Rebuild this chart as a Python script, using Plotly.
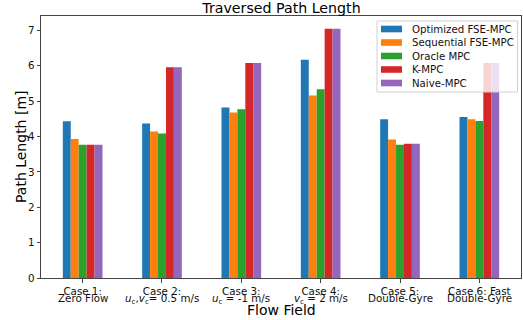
import plotly.graph_objects as go

case_titles = ["Case 1:", "Case 2:", "Case 3:", "Case 4:", "Case 5:", "Case 6: Fast"]
case_subtitles = ["Zero Flow",
                  "<i>u</i><sub>c</sub>,<i>v</i><sub>c</sub>= 0.5 m/s",
                  "<i>u</i><sub>c</sub> = -1 m/s",
                  "<i>v</i><sub>c</sub> = 2 m/s",
                  "Double-Gyre",
                  "Double-Gyre"]
methods = ["Optimized FSE-MPC", "Sequential FSE-MPC", "Oracle MPC", "K-MPC", "Naive-MPC"]
colors = ["#1f77b4", "#ff7f0e", "#2ca02c", "#d62728", "#9467bd"]

optimized = [4.43, 4.37, 4.82, 6.17, 4.49, 4.55]
sequential = [3.93, 4.14, 4.68, 5.16, 3.92, 4.49]
oracle = [3.77, 4.09, 4.77, 5.34, 3.77, 4.44]
kmpc = [3.77, 5.96, 6.08, 7.05, 3.80, 6.08]
naive = [3.77, 5.96, 6.08, 7.05, 3.80, 6.08]
series = [optimized, sequential, oracle, kmpc, naive]

y_ticks = [0, 1, 2, 3, 4, 5, 6, 7]

FONT = "DejaVu Sans"
W, H = 523, 320
ML, MR, MT, MB = 41, 2, 16, 42
PW, PH = W - ML - MR, H - MT - MB


def px(x):
    return (x - ML) / PW


def py(y):
    return (H - MB - y) / PH


xpos = list(range(len(case_titles)))

fig = go.Figure()
for name, vals, c in zip(methods, series, colors):
    fig.add_trace(go.Bar(x=xpos, y=vals, name=name, showlegend=False,
                         marker=dict(color=c, line=dict(width=0))))

shapes = []
annots = []
# legend box (semi-transparent, drawn over bars)
shapes.append(dict(type="rect", xref="paper", yref="paper", layer="above",
                   x0=px(377), x1=px(517.5), y0=py(92), y1=py(21),
                   fillcolor="rgba(255,255,255,0.8)", line=dict(color="#d0d0d0", width=1)))
row_y = [29, 42.5, 56, 69.5, 83]
for name, c, ry in zip(methods, colors, row_y):
    shapes.append(dict(type="rect", xref="paper", yref="paper", layer="above",
                       x0=px(381), x1=px(402), y0=py(ry + 3.3), y1=py(ry - 3.3),
                       fillcolor=c, line=dict(width=0)))
    annots.append(dict(text=name, xref="paper", yref="paper", x=px(410), y=py(ry),
                       xanchor="left", yanchor="middle", showarrow=False,
                       font=dict(size=10.2, family=FONT, color="#111")))

# second line of category labels
for xv, sub in zip(xpos, case_subtitles):
    annots.append(dict(text=sub, xref="x", yref="paper", x=xv, y=py(290),
                       xanchor="center", yanchor="top", showarrow=False,
                       font=dict(size=10.3, family=FONT, color="#111")))

# axis titles
annots.append(dict(text="Flow Field", xref="paper", yref="paper", x=px(281.5), y=py(310),
                   xanchor="center", yanchor="middle", showarrow=False,
                   font=dict(size=14, family=FONT, color="black")))
annots.append(dict(text="Path Length [m]", xref="paper", yref="paper", x=px(21), y=py(147),
                   xanchor="center", yanchor="middle", showarrow=False, textangle=-90,
                   font=dict(size=14, family=FONT, color="black")))

fig.update_layout(
    width=W, height=H,
    margin=dict(l=ML, r=MR, t=MT, b=MB),
    paper_bgcolor="white", plot_bgcolor="white",
    barmode="group", bargap=0.5, bargroupgap=0,
    font=dict(family=FONT, color="black", size=10),
    title=dict(text="Traversed Path Length", x=281.5 / W, xanchor="center",
               yref="container", y=1 - 8.5 / H, yanchor="middle",
               font=dict(size=14.2, family=FONT, color="black")),
    showlegend=False,
    shapes=shapes,
    annotations=annots,
)
fig.update_xaxes(
    range=[-0.525, 5.525], tickvals=xpos, ticktext=case_titles,
    showline=True, linecolor="#444", linewidth=1, mirror=True,
    ticks="outside", ticklen=3.5, tickcolor="#444", showgrid=False,
    tickfont=dict(size=10.3, family=FONT, color="#111"),
)
fig.update_yaxes(
    range=[0, 7.41], tickvals=y_ticks,
    showline=True, linecolor="#444", linewidth=1, mirror=True,
    ticks="outside", ticklen=3.5, tickcolor="#444", showgrid=False, zeroline=False,
    tickfont=dict(size=10.3, family=FONT, color="#111"),
)

fig.write_html("out.html")
